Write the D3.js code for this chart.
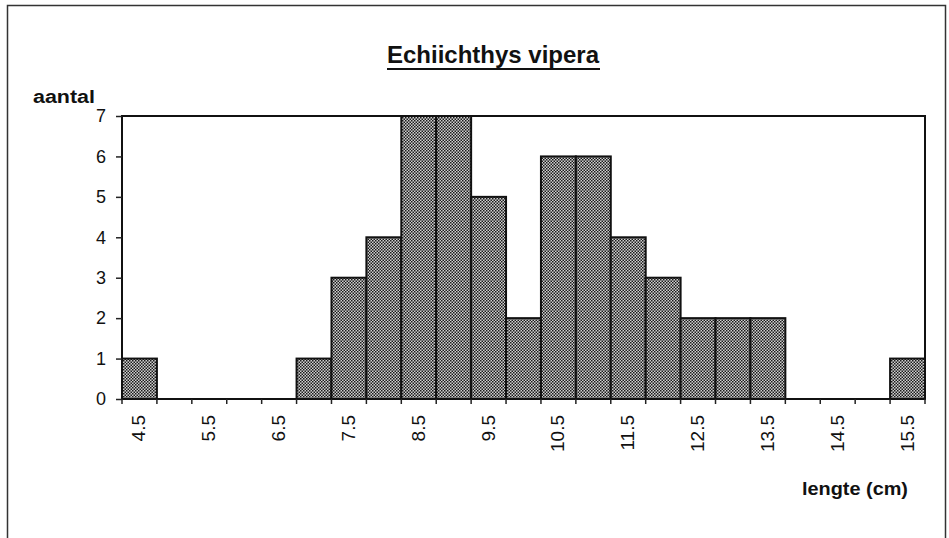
<!DOCTYPE html>
<html><head><meta charset="utf-8">
<script src="https://cdn.jsdelivr.net/npm/d3@7"></script>
<style>body{margin:0;background:#fff;}svg{display:block;font-family:Arial, "Liberation Sans", sans-serif;}</style>
</head><body>
<svg id="c" width="949" height="538"></svg>
<script>
const categories = ["4.5","5","5.5","6","6.5","7","7.5","8","8.5","9","9.5","10","10.5","11","11.5","12","12.5","13","13.5","14","14.5","15","15.5"];
const counts = [1,0,0,0,0,1,3,4,7,7,5,2,6,6,4,3,2,2,2,0,0,0,1];
const yTicks = [0,1,2,3,4,5,6,7];
const xLabels = ["4.5","5.5","6.5","7.5","8.5","9.5","10.5","11.5","12.5","13.5","14.5","15.5"];

const svg = d3.select("#c");
const L = 122, R = 925, T = 116, B = 399;

const defs = svg.append("defs");
const pat = defs.append("pattern").attr("id","dots").attr("width",3).attr("height",3).attr("patternUnits","userSpaceOnUse");
pat.append("rect").attr("width",3).attr("height",3).attr("fill","#d0d0d0");
pat.append("rect").attr("x",0).attr("y",0).attr("width",1.5).attr("height",1.5).attr("fill","#1a1a1a");
pat.append("rect").attr("x",1.5).attr("y",1.5).attr("width",1.5).attr("height",1.5).attr("fill","#1a1a1a");

// outer frame
svg.append("rect").attr("x",7.5).attr("y",5.5).attr("width",938).attr("height",540).attr("fill","none").attr("stroke","#333").attr("stroke-width",1.5);

const x = d3.scaleBand().domain(categories).range([L,R]).padding(0);
const y = d3.scaleLinear().domain([0,7]).range([B,T]);

// bars
svg.append("g").selectAll("rect").data(categories.map((c,i)=>({c,v:counts[i]})).filter(d=>d.v>0))
  .join("rect")
  .attr("x",d=>x(d.c)).attr("y",d=>y(d.v))
  .attr("width",x.bandwidth()).attr("height",d=>y(0)-y(d.v))
  .attr("fill","url(#dots)").attr("stroke","#111").attr("stroke-width",2);

// plot box
svg.append("rect").attr("x",L).attr("y",T).attr("width",R-L).attr("height",B-T).attr("fill","none").attr("stroke","#111").attr("stroke-width",2);

// y axis
const ya = svg.append("g").attr("transform",`translate(${L},0)`)
  .call(d3.axisLeft(y).tickValues(yTicks).tickFormat(d3.format("d")).tickSize(6).tickPadding(10));
ya.select(".domain").remove();
ya.selectAll("line").attr("stroke","#222").attr("stroke-width",1.5);
ya.selectAll("text").attr("font-size",18).attr("fill","#111").attr("font-family","Arial, 'Liberation Sans', sans-serif");

// x ticks at boundaries
const bounds = categories.map(c=>x(c)).concat([R]);
svg.append("g").selectAll("line").data(bounds).join("line")
  .attr("x1",d=>d).attr("x2",d=>d).attr("y1",B).attr("y2",B+5)
  .attr("stroke","#222").attr("stroke-width",1.5);

// x labels
svg.append("g").selectAll("text").data(xLabels).join("text")
  .attr("transform",d=>`translate(${x(d)+x.bandwidth()/2+6},${B+16}) rotate(-90)`)
  .attr("text-anchor","end").attr("font-size",19).attr("fill","#111").text(d=>d);

// title
svg.append("text").attr("x",493).attr("y",63).attr("text-anchor","middle")
  .attr("font-size",24).attr("font-weight","bold").attr("fill","#111")
  .attr("textLength",212).attr("lengthAdjust","spacingAndGlyphs").text("Echiichthys vipera");
svg.append("line").attr("x1",387).attr("x2",600).attr("y1",69).attr("y2",69).attr("stroke","#111").attr("stroke-width",2);

svg.append("text").attr("x",33).attr("y",103).attr("font-size",18).attr("font-weight","bold").attr("fill","#111")
  .attr("textLength",62).attr("lengthAdjust","spacingAndGlyphs").text("aantal");
svg.append("text").attr("x",802).attr("y",495).attr("font-size",19).attr("font-weight","bold").attr("fill","#111")
  .attr("textLength",106).attr("lengthAdjust","spacingAndGlyphs").text("lengte (cm)");
</script>
</body></html>
